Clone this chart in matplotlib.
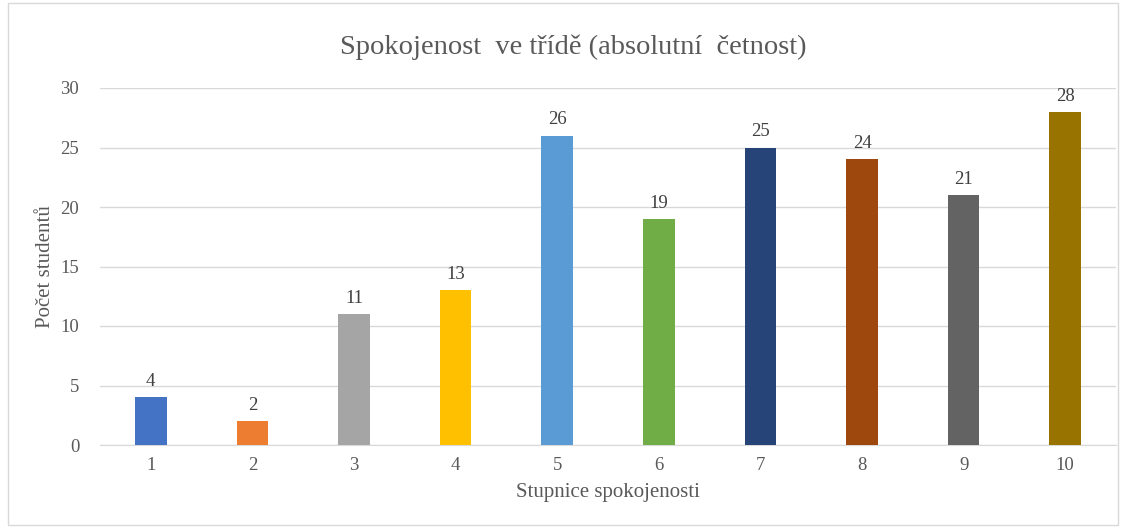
import matplotlib.pyplot as plt
from matplotlib.patches import Rectangle

plt.rcParams['font.family'] = ['Liberation Serif', 'DejaVu Serif']

categories = ['1', '2', '3', '4', '5', '6', '7', '8', '9', '10']
counts = [4, 2, 11, 13, 26, 19, 25, 24, 21, 28]
colors = ['#4472C4', '#ED7D31', '#A5A5A5', '#FFC000', '#5B9BD5',
          '#70AD47', '#264478', '#9E480E', '#636363', '#997300']

fig = plt.figure(figsize=(11.27, 5.27), dpi=100)
fig.patches.append(Rectangle((8 / 1127, 2 / 527), 1110 / 1127, 522 / 527,
                             transform=fig.transFigure, fill=False,
                             edgecolor='#D9D9D9', linewidth=1))
ax = fig.add_axes([100 / 1127, 1 - 445 / 527, 1016 / 1127, 357 / 527])

x = range(len(categories))
bars = ax.bar(x, counts, width=0.31, color=colors, zorder=3)
for xi, v in zip(x, counts):
    ax.text(xi, v + 0.6, str(v), ha='center', va='bottom', fontsize=13.5, color='#404040')

ax.set_xlim(-0.5, len(categories) - 0.5)
ax.set_ylim(0, 30)
ax.set_yticks(range(0, 31, 5))
ax.set_xticks(list(x))
ax.set_xticklabels(categories)
ax.grid(axis='y', color='#D9D9D9', linewidth=1, zorder=0)
for s in ['top', 'right', 'left']:
    ax.spines[s].set_visible(False)
ax.spines['bottom'].set_color('#D9D9D9')
ax.tick_params(length=0, labelsize=13.5, labelcolor='#595959')
ax.tick_params(axis='y', pad=15)
ax.tick_params(axis='x', pad=9)

fig.text(573 / 1127, 1 - 47 / 527, 'Spokojenost  ve třídě (absolutní  četnost)',
         fontsize=20.5, color='#595959', ha='center', va='center')
ax.set_xlabel('Stupnice spokojenosti', fontsize=15, color='#595959', labelpad=6)
ax.set_ylabel('Počet studentů', fontsize=15, color='#595959', labelpad=4)

fig.savefig('out.png', dpi=100)
